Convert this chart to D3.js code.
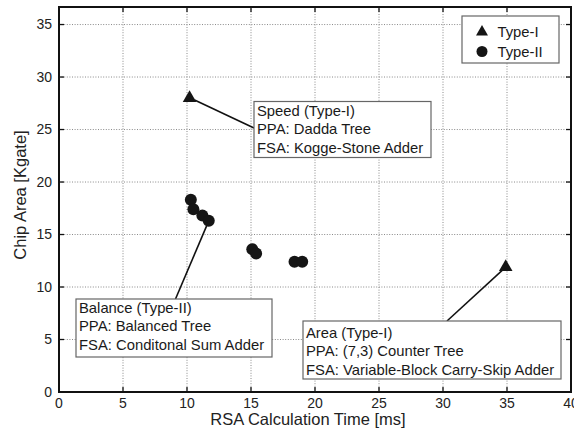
<!DOCTYPE html>
<html>
<head>
<meta charset="utf-8">
<script src="https://cdn.jsdelivr.net/npm/d3@7"></script>
<style>
  body { margin: 0; background: #fff; }
  svg { display: block; font-family: 'Liberation Sans', Arial, sans-serif; }
  .grid line { stroke: #8a8a8a; stroke-width: 1; stroke-dasharray: 1,1.6; }
  .tick-label { font-size: 14px; fill: #222; }
  .axis-title { font-size: 16.5px; fill: #222; }
  .note rect { fill: #fff; stroke: #666; stroke-width: 1.2; }
  .note text { font-size: 14.8px; fill: #1a1a1a; }
</style>
</head>
<body>
<div id="chart"></div>
<script>
// values
var xTicks = [0, 5, 10, 15, 20, 25, 30, 35, 40]
var yTicks = [0, 5, 10, 15, 20, 25, 30, 35]

var typeI = [
  {time: 10.2, area: 28.0},
  {time: 34.9, area: 11.9}
]
var typeII = [
  {time: 10.3, area: 18.3},
  {time: 10.5, area: 17.4},
  {time: 11.2, area: 16.8},
  {time: 11.7, area: 16.3},
  {time: 15.1, area: 13.6},
  {time: 15.4, area: 13.2},
  {time: 18.4, area: 12.4},
  {time: 19.0, area: 12.4}
]
var seriesNames = ['Type-I', 'Type-II']

var noteSpeed = ['Speed (Type-I)', 'PPA: Dadda Tree', 'FSA: Kogge-Stone Adder']
var noteBalance = ['Balance (Type-II)', 'PPA: Balanced Tree', 'FSA: Conditonal Sum Adder']
var noteArea = ['Area (Type-I)', 'PPA: (7,3) Counter Tree', 'FSA: Variable-Block Carry-Skip Adder']

var width = 574, height = 436
var svg = d3.select('#chart').append('svg').attr('width', width).attr('height', height)

var x = d3.scaleLinear().domain([0, 40]).range([59, 571])
var y = d3.scaleLinear().domain([0, 36.67]).range([392, 7])

// dotted grid
var grid = svg.append('g').attr('class', 'grid')
grid.selectAll('.gx').data(xTicks.slice(1, -1)).enter().append('line')
  .attr('x1', d => x(d)).attr('x2', d => x(d)).attr('y1', y.range()[0]).attr('y2', y.range()[1])
grid.selectAll('.gy').data(yTicks.slice(1)).enter().append('line')
  .attr('y1', d => y(d)).attr('y2', d => y(d)).attr('x1', x.range()[0]).attr('x2', x.range()[1])

// inner ticks on all four sides
var tk = svg.append('g').attr('stroke', '#111').attr('stroke-width', 1.3)
xTicks.slice(1, -1).forEach(function(d){
  tk.append('line').attr('x1', x(d)).attr('x2', x(d)).attr('y1', y.range()[0]).attr('y2', y.range()[0] - 5)
  tk.append('line').attr('x1', x(d)).attr('x2', x(d)).attr('y1', y.range()[1]).attr('y2', y.range()[1] + 5)
})
yTicks.slice(1).forEach(function(d){
  tk.append('line').attr('y1', y(d)).attr('y2', y(d)).attr('x1', x.range()[0]).attr('x2', x.range()[0] + 5)
  tk.append('line').attr('y1', y(d)).attr('y2', y(d)).attr('x1', x.range()[1]).attr('x2', x.range()[1] - 5)
})

// frame
svg.append('rect')
  .attr('x', x.range()[0]).attr('y', y.range()[1])
  .attr('width', x.range()[1] - x.range()[0]).attr('height', y.range()[0] - y.range()[1])
  .attr('fill', 'none').attr('stroke', '#111').attr('stroke-width', 2)

// tick labels
svg.selectAll('.xl').data(xTicks).enter().append('text')
  .attr('class', 'tick-label').attr('text-anchor', 'middle')
  .attr('x', d => x(d)).attr('y', 408).text(d => d)
svg.selectAll('.yl').data(yTicks).enter().append('text')
  .attr('class', 'tick-label').attr('text-anchor', 'end').attr('dy', '0.35em')
  .attr('x', 52).attr('y', d => y(d)).text(d => d)

svg.append('text').attr('class', 'axis-title').attr('text-anchor', 'middle')
  .attr('x', 308).attr('y', 424.5).text('RSA Calculation Time [ms]')
svg.append('text').attr('class', 'axis-title').attr('text-anchor', 'middle')
  .attr('transform', 'translate(26,195) rotate(-90)').text('Chip Area [Kgate]')

// connector lines, drawn under the markers
var link = svg.append('g').attr('stroke', '#111').attr('stroke-width', 1.6)
link.append('line').attr('x1', x(typeI[0].time) + 5).attr('y1', y(typeI[0].area) + 2).attr('x2', 254).attr('y2', 128)
link.append('line').attr('x1', x(typeII[3].time)).attr('y1', y(typeII[3].area)).attr('x2', 175.5).attr('y2', 299)
link.append('line').attr('x1', x(typeI[1].time)).attr('y1', y(typeI[1].area)).attr('x2', 447).attr('y2', 321)

var tri = d3.symbol().type(d3.symbolTriangle).size(80)
svg.selectAll('.t1').data(typeI).enter().append('path')
  .attr('d', tri).attr('fill', '#151515')
  .attr('transform', d => 'translate(' + x(d.time) + ',' + y(d.area) + ')')
svg.selectAll('.t2').data(typeII).enter().append('circle')
  .attr('r', 6).attr('fill', '#151515')
  .attr('cx', d => x(d.time)).attr('cy', d => y(d.area))

// annotation boxes
function note(lines, bx, by, bw, bh, base){
  var g = svg.append('g').attr('class', 'note')
  g.append('rect').attr('x', bx).attr('y', by).attr('width', bw).attr('height', bh)
  lines.forEach(function(t, i){
    g.append('text').attr('x', bx + 3).attr('y', base + i * 18.4).text(t)
  })
}
note(noteSpeed, 254, 101.5, 177, 56, 115.7)
note(noteBalance, 76, 299, 196, 58, 313)
note(noteArea, 303, 321, 258, 58, 337.7)

// legend
var leg = svg.append('g').attr('class', 'note')
leg.append('rect').attr('x', 462).attr('y', 16).attr('width', 97).attr('height', 47)
leg.append('path').attr('d', d3.symbol().type(d3.symbolTriangle).size(62)).attr('fill', '#151515')
  .attr('transform', 'translate(482,32)')
leg.append('circle').attr('cx', 482).attr('cy', 51.5).attr('r', 5.5).attr('fill', '#151515')
seriesNames.forEach(function(s, i){
  leg.append('text').attr('x', 497.5).attr('y', 36.5 + i * 20).text(s)
})
</script>
</body>
</html>
